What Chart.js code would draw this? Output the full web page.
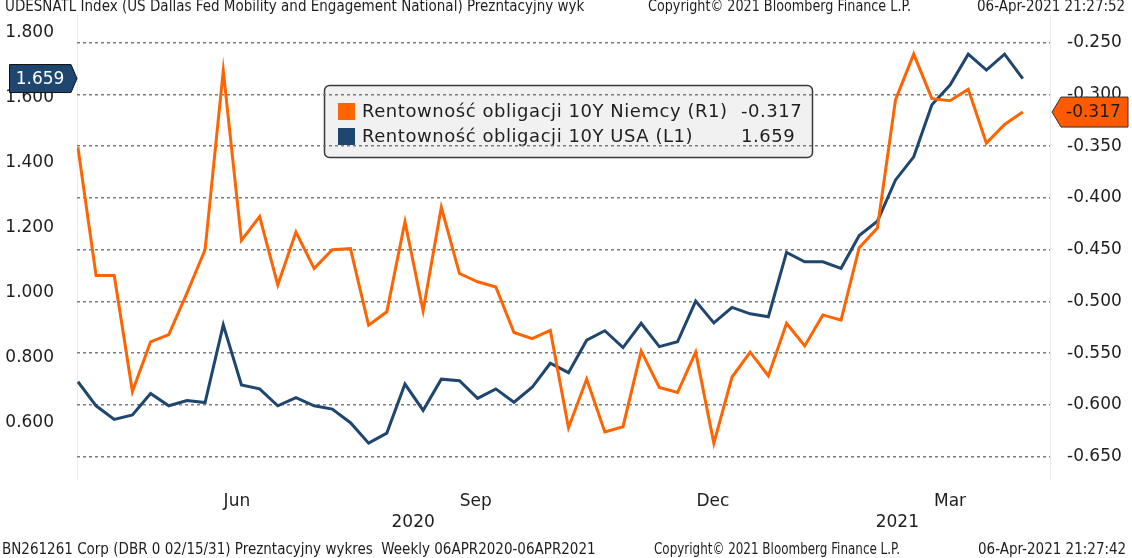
<!DOCTYPE html>
<html>
<head>
<meta charset="utf-8">
<script src="https://cdn.jsdelivr.net/npm/chart.js@4/dist/chart.umd.min.js"></script>
<style>
  body { margin: 0; background: #fff; }
</style>
</head>
<body>
<canvas id="chart" width="1132" height="558"></canvas>
<script>
// weekly readings 06APR2020 - 06APR2021
const germany10y = [
  -0.351, -0.475, -0.475, -0.587, -0.539, -0.532, -0.492, -0.450, -0.277, -0.441,
  -0.418, -0.484, -0.433, -0.468, -0.450, -0.449, -0.523, -0.510, -0.423, -0.509,
  -0.409, -0.473, -0.481, -0.486, -0.530, -0.536, -0.528, -0.622, -0.575, -0.626,
  -0.621, -0.548, -0.583, -0.588, -0.549, -0.637, -0.573, -0.549, -0.572, -0.521,
  -0.543, -0.513, -0.518, -0.448, -0.429, -0.305, -0.261, -0.304, -0.306, -0.295,
  -0.347, -0.329, -0.317
];
const usa10y = [
  0.726, 0.652, 0.610, 0.624, 0.690, 0.652, 0.668, 0.662, 0.901, 0.716,
  0.704, 0.652, 0.677, 0.652, 0.642, 0.600, 0.537, 0.568, 0.719, 0.638,
  0.734, 0.729, 0.675, 0.704, 0.663, 0.709, 0.783, 0.754, 0.854, 0.883,
  0.831, 0.906, 0.834, 0.849, 0.974, 0.907, 0.955, 0.935, 0.926, 1.124,
  1.095, 1.095, 1.075, 1.176, 1.220, 1.347, 1.418, 1.578, 1.639, 1.734,
  1.685, 1.734, 1.659
];
const seriesNames = ['Rentowność obligacji 10Y Niemcy (R1)', 'Rentowność obligacji 10Y USA (L1)'];
const leftTicks = [0.6, 0.8, 1.0, 1.2, 1.4, 1.6, 1.8];
const rightTicks = [-0.65, -0.6, -0.55, -0.5, -0.45, -0.4, -0.35, -0.3, -0.25];
const monthLabels = ['Jun', 'Sep', 'Dec', 'Mar'];
const monthAt = [8.75, 21.9, 34.95, 48.0];
const yearLabels = ['2020', '2021'];
const yearAt = [18.45, 45.1];

const ORANGE = '#ff6400';
const NAVY = '#1f466e';
const TEXT = '#1e1e1e';
const FONT = "'DejaVu Sans', Verdana, sans-serif";

// legend box, drawn under the grid lines
const legendBox = {
  id: 'legendBox',
  beforeDraw(chart) {
    const ctx = chart.ctx;
    const a = chart.chartArea;
    ctx.save();
    ctx.strokeStyle = '#ececec';
    ctx.lineWidth = 1;
    ctx.beginPath();
    ctx.moveTo(a.left + 0.5, a.top); ctx.lineTo(a.left + 0.5, a.bottom);
    ctx.moveTo(a.right + 0.5, a.top); ctx.lineTo(a.right + 0.5, a.bottom);
    ctx.stroke();

    ctx.beginPath();
    ctx.roundRect(324.5, 85.5, 488, 72, 5);
    ctx.fillStyle = '#f1f1f1';
    ctx.fill();
    ctx.strokeStyle = '#3a3a3a';
    ctx.lineWidth = 1.5;
    ctx.stroke();

    const rows = [
      { color: ORANGE, name: seriesNames[0], val: germany10y[germany10y.length - 1].toFixed(3), y: 111 },
      { color: NAVY, name: seriesNames[1], val: usa10y[usa10y.length - 1].toFixed(3), y: 136 }
    ];
    ctx.font = '18px ' + FONT;
    ctx.letterSpacing = '0.55px';
    ctx.textBaseline = 'middle';
    rows.forEach(r => {
      ctx.fillStyle = r.color;
      ctx.fillRect(338, r.y - 8, 17, 17);
      ctx.fillStyle = TEXT;
      ctx.textAlign = 'left';
      ctx.fillText(r.name, 362, r.y + 1, 368);
      ctx.fillText(r.val, 741, r.y + 1);
    });
    ctx.restore();
  }
};

// header, footer, year labels and last-value tags
const extras = {
  id: 'extras',
  afterDraw(chart) {
    const ctx = chart.ctx;
    const x = chart.scales.x;
    ctx.save();
    ctx.fillStyle = TEXT;
    ctx.textBaseline = 'alphabetic';
    ctx.textAlign = 'left';

    ctx.font = "15px 'DejaVu Sans Condensed', 'DejaVu Sans', sans-serif";
    ctx.fillText('UDESNATL Index (US Dallas Fed Mobility and Engagement National) Prezntacyjny wyk', 5, 11, 580);
    ctx.fillText('Copyright\u00a9 2021 Bloomberg Finance L.P.', 648, 11, 263);
    ctx.fillText('06-Apr-2021 21:27:52', 977, 11, 150);

    ctx.fillText('BN261261 Corp (DBR 0 02/15/31) Prezntacyjny wykres  Weekly 06APR2020-06APR2021', 2, 554, 601);
    ctx.fillText('Copyright\u00a9 2021 Bloomberg Finance L.P.', 654, 554, 246);
    ctx.fillText('06-Apr-2021 21:27:42', 978, 554, 150);

    ctx.font = '17px ' + FONT;
    ctx.textAlign = 'center';
    ctx.textBaseline = 'middle';
    yearLabels.forEach((t, i) => ctx.fillText(t, x.getPixelForValue(yearAt[i]), 523));

    // left tag (USA, L1)
    const usLast = usa10y[usa10y.length - 1];
    const yl = chart.scales.yL.getPixelForValue(usLast);
    ctx.beginPath();
    ctx.moveTo(9.5, yl - 14); ctx.lineTo(71, yl - 14); ctx.lineTo(77, yl);
    ctx.lineTo(71, yl + 14); ctx.lineTo(9.5, yl + 14); ctx.closePath();
    ctx.fillStyle = NAVY;
    ctx.fill();
    ctx.strokeStyle = '#111';
    ctx.lineWidth = 1;
    ctx.stroke();
    ctx.fillStyle = '#ffffff';
    ctx.fillText(usLast.toFixed(3), 40, yl + 1);

    // right tag (Germany, R1)
    const deLast = germany10y[germany10y.length - 1];
    const yr = chart.scales.yR.getPixelForValue(deLast);
    ctx.beginPath();
    ctx.moveTo(1052, yr); ctx.lineTo(1061, yr - 15); ctx.lineTo(1128, yr - 15);
    ctx.lineTo(1128, yr + 15); ctx.lineTo(1061, yr + 15); ctx.closePath();
    ctx.fillStyle = '#ff5a00';
    ctx.fill();
    ctx.strokeStyle = '#333';
    ctx.stroke();
    ctx.fillStyle = TEXT;
    ctx.textAlign = 'left';
    ctx.fillText(deLast.toFixed(3), 1066, yr + 1);
    ctx.restore();
  }
};

const fitY = w => s => { s.width = w; s.paddingTop = 0; s.paddingBottom = 0; };

new Chart(document.getElementById('chart'), {
  type: 'line',
  data: {
    datasets: [{
      label: seriesNames[0],
      data: germany10y.map((v, i) => ({ x: i, y: v })),
      yAxisID: 'yR',
      borderColor: ORANGE,
      borderWidth: 3,
      pointRadius: 0,
      tension: 0
    }, {
      label: seriesNames[1],
      data: usa10y.map((v, i) => ({ x: i, y: v })),
      yAxisID: 'yL',
      borderColor: NAVY,
      borderWidth: 3,
      pointRadius: 0,
      tension: 0
    }]
  },
  options: {
    responsive: false,
    animation: false,
    devicePixelRatio: 1,
    layout: { padding: { top: 15, left: 0, right: 0, bottom: 0 } },
    plugins: {
      legend: { display: false },
      tooltip: { enabled: false }
    },
    scales: {
      x: {
        type: 'linear',
        min: -0.05,
        max: 53.5,
        afterFit: s => { s.height = 78; s.paddingLeft = 0; s.paddingRight = 0; },
        afterBuildTicks: s => { s.ticks = monthAt.map(v => ({ value: v })); },
        grid: { display: false },
        border: { display: false },
        ticks: {
          autoSkip: false,
          maxRotation: 0,
          padding: 3,
          color: TEXT,
          font: { family: FONT, size: 17 },
          callback: (v, i) => monthLabels[i]
        }
      },
      yL: {
        position: 'left',
        min: 0.4237,
        max: 1.8545,
        afterFit: fitY(77),
        afterBuildTicks: s => { s.ticks = leftTicks.map(v => ({ value: v })); },
        grid: { display: false },
        border: { display: false },
        ticks: {
          padding: 15,
          color: TEXT,
          font: { family: FONT, size: 17 },
          callback: v => v.toFixed(3)
        }
      },
      yR: {
        position: 'right',
        min: -0.6725,
        max: -0.2232,
        afterFit: fitY(82),
        afterBuildTicks: s => { s.ticks = rightTicks.map(v => ({ value: v })); },
        grid: { color: '#7c7c7c', lineWidth: 1.5, drawTicks: false },
        border: { display: false, dash: [3, 3] },
        ticks: {
          padding: 17,
          color: TEXT,
          font: { family: FONT, size: 17 },
          callback: v => v.toFixed(3)
        }
      }
    }
  },
  plugins: [legendBox, extras]
});
</script>
</body>
</html>
